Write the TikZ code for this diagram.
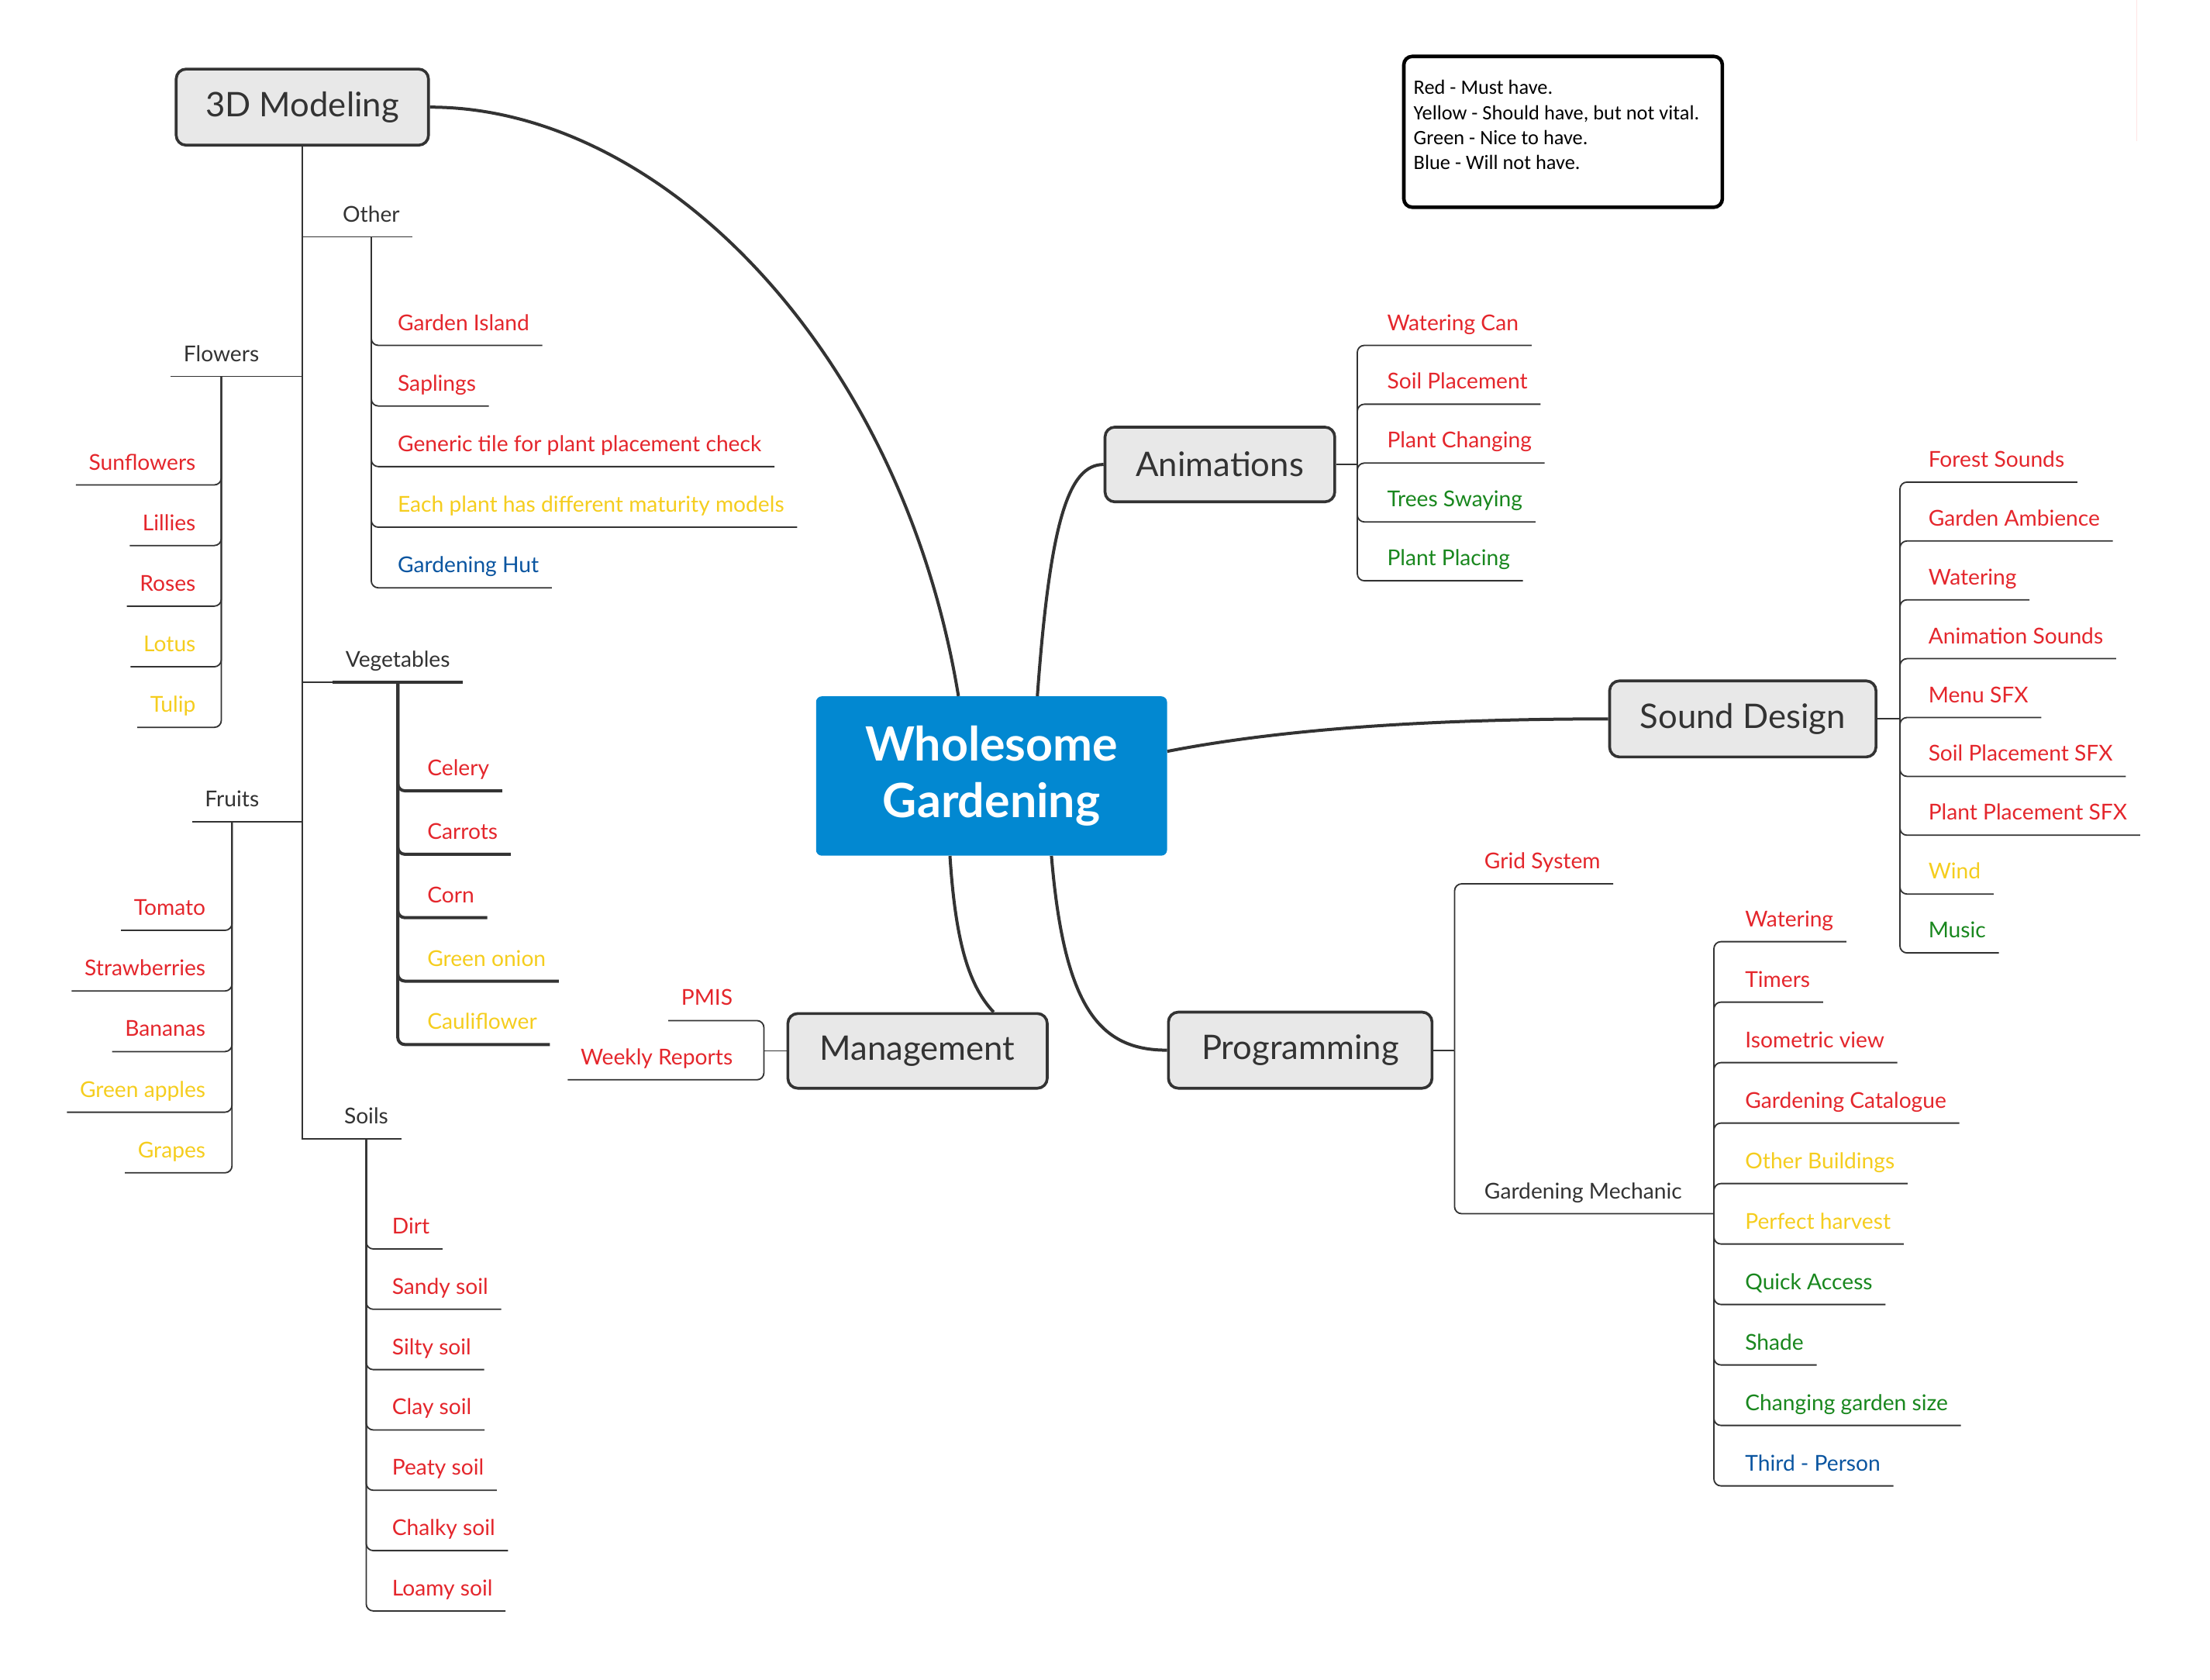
\documentclass[tikz,border=0pt]{standalone}
\usepackage{fontspec}
\setmainfont{Lato}
\newfontfamily\legendfont{Carlito}
\usetikzlibrary{positioning}

\definecolor{hubblue}{RGB}{2,136,209}
\definecolor{topicfill}{RGB}{232,232,232}
\definecolor{ink}{RGB}{51,51,51}
\definecolor{mustred}{RGB}{228,38,44}
\definecolor{shouldyellow}{RGB}{245,205,30}
\definecolor{nicegreen}{RGB}{25,135,30}
\definecolor{wontblue}{RGB}{10,85,160}

\tikzset{
  hub/.style={fill=hubblue, text=white, rounded corners=4pt, minimum width=249pt,
    minimum height=113pt, align=center, font=\fontsize{33.5}{40}\selectfont\bfseries},
  topic/.style={draw=ink, line width=2pt, fill=topicfill, rounded corners=7pt,
    text=ink, inner xsep=6pt, font=\fontsize{24}{28}\selectfont},
  leaf/.style={inner xsep=9pt, inner ysep=7pt, text height=11.5pt, text depth=3.5pt,
    font=\fontsize{15.5}{18}\selectfont},
  group/.style={leaf, text=ink},
  must/.style={leaf, text=mustred},
  should/.style={leaf, text=shouldyellow},
  nice/.style={leaf, text=nicegreen},
  wont/.style={leaf, text=wontblue},
  limb/.style={draw=ink, line width=2.2pt},
  stem/.style={draw=ink, line width=1pt},
  twig/.style={draw=ink, line width=1pt, rounded corners=5pt},
  twigbold/.style={twig, line width=2.2pt},
  legend/.style={draw=black, line width=2.5pt, rounded corners=6pt, inner sep=7pt,
    font=\legendfont\fontsize{14.5}{17.7}\selectfont}
}

\begin{document}
\begin{tikzpicture}[x=1pt, y=-1pt]

    \useasboundingbox (0,0) rectangle (1568,1191.8);

    % Define nodes

    \node[hub]                                         (hub) at (703.5,550.5) {Wholesome\\Gardening}; %
    \node[topic, minimum width=179pt, minimum height=54pt] (model) at (214.5,76) {3D Modeling}; %
    \node[topic, minimum width=163pt, minimum height=53pt] (anim) at (865.5,329.5) {Animations}; %
    \node[topic, minimum width=189pt, minimum height=54pt] (sound) at (1236.5,510) {Sound Design}; %
    \node[topic, minimum width=187pt, minimum height=54pt] (prog) at (922.5,745) {Programming}; %
    \node[topic, minimum width=184pt, minimum height=53pt] (mgmt) at (651,745.5) {Management}; %

    \node[legend] (legend) at (1109,93.5) {\parbox[c][93pt][t]{212pt}{\vspace*{10pt}Red - Must have.\\
      Yellow - Should have, but not vital.\\ Green - Nice to have.\\ Blue - Will not have.}}; %

    % 3D Modeling groups
    \node[group, anchor=south west]                    (other) at (234,168) {Other}; %
    \node[group, anchor=south east]                    (flowers) at (193,267) {Flowers}; %
    \node[group, anchor=south west]                    (veg) at (236,484) {Vegetables}; %
    \node[group, anchor=south east]                    (fruits) at (193,583) {Fruits}; %
    \node[group, anchor=south west]                    (soils) at (235,808) {Soils}; %

    % Other
    \node[must, anchor=south west]                     (gisland) at (273,245) {Garden Island}; %
    \node[must, below=43pt of gisland.south west, anchor=south west]  (saplings) {Saplings}; %
    \node[must, below=43pt of saplings.south west, anchor=south west] (gtile) {Generic tile for plant placement check}; %
    \node[should, below=43pt of gtile.south west, anchor=south west]  (maturity) {Each plant has different maturity models}; %
    \node[wont, below=43pt of maturity.south west, anchor=south west] (ghut) {Gardening Hut}; %

    % Flowers
    \node[must, anchor=south east]                     (sunfl) at (148,344) {Sunflowers}; %
    \node[must, below=43pt of sunfl.south east, anchor=south east]    (lillies) {Lillies}; %
    \node[must, below=43pt of lillies.south east, anchor=south east]  (roses) {Roses}; %
    \node[should, below=43pt of roses.south east, anchor=south east]  (lotus) {Lotus}; %
    \node[should, below=43pt of lotus.south east, anchor=south east]  (tulip) {Tulip}; %

    % Vegetables
    \node[must, anchor=south west]                     (celery) at (294,561) {Celery}; %
    \node[must, below=45pt of celery.south west, anchor=south west]   (carrots) {Carrots}; %
    \node[must, below=45pt of carrots.south west, anchor=south west]  (corn) {Corn}; %
    \node[should, below=45pt of corn.south west, anchor=south west]   (gonion) {Green onion}; %
    \node[should, below=45pt of gonion.south west, anchor=south west] (cauli) {Cauliflower}; %

    % Fruits
    \node[must, anchor=south east]                     (tomato) at (155,660) {Tomato}; %
    \node[must, below=43pt of tomato.south east, anchor=south east]   (strawb) {Strawberries}; %
    \node[must, below=43pt of strawb.south east, anchor=south east]   (bananas) {Bananas}; %
    \node[should, below=43pt of bananas.south east, anchor=south east] (gapples) {Green apples}; %
    \node[should, below=43pt of gapples.south east, anchor=south east] (grapes) {Grapes}; %

    % Soils
    \node[must, anchor=south west]                     (dirt) at (269,886) {Dirt}; %
    \node[must, below=42.8pt of dirt.south west, anchor=south west]   (sandy) {Sandy soil}; %
    \node[must, below=42.8pt of sandy.south west, anchor=south west]  (silty) {Silty soil}; %
    \node[must, below=42.8pt of silty.south west, anchor=south west]  (clay) {Clay soil}; %
    \node[must, below=42.8pt of clay.south west, anchor=south west]   (peaty) {Peaty soil}; %
    \node[must, below=42.8pt of peaty.south west, anchor=south west]  (chalky) {Chalky soil}; %
    \node[must, below=42.8pt of chalky.south west, anchor=south west] (loamy) {Loamy soil}; %

    % Animations
    \coordinate[right=15pt of anim.east]               (animfork); %
    \node[must, anchor=south west]                     (wcan) at (975,245) {Watering Can}; %
    \node[must, below=41.75pt of wcan.south west, anchor=south west]   (asoil) {Soil Placement}; %
    \node[must, below=41.75pt of asoil.south west, anchor=south west]  (pchange) {Plant Changing}; %
    \node[nice, below=41.75pt of pchange.south west, anchor=south west] (trees) {Trees Swaying}; %
    \node[nice, below=41.75pt of trees.south west, anchor=south west]  (pplace) {Plant Placing}; %

    % Sound Design
    \coordinate[right=16pt of sound.east]              (soundfork); %
    \node[must, anchor=south west]                     (forest) at (1359,342) {Forest Sounds}; %
    \node[must, below=41.75pt of forest.south west, anchor=south west]  (ambience) {Garden Ambience}; %
    \node[must, below=41.75pt of ambience.south west, anchor=south west] (swater) {Watering}; %
    \node[must, below=41.75pt of swater.south west, anchor=south west]  (asounds) {Animation Sounds}; %
    \node[must, below=41.75pt of asounds.south west, anchor=south west] (menusfx) {Menu SFX}; %
    \node[must, below=41.75pt of menusfx.south west, anchor=south west] (soilsfx) {Soil Placement SFX}; %
    \node[must, below=41.75pt of soilsfx.south west, anchor=south west] (plantsfx) {Plant Placement SFX}; %
    \node[should, below=41.75pt of plantsfx.south west, anchor=south west] (wind) {Wind}; %
    \node[nice, below=41.75pt of wind.south west, anchor=south west]    (music) {Music}; %

    % Programming
    \coordinate[right=15pt of prog.east]               (progfork); %
    \node[must, anchor=south west]                     (grid) at (1044,627) {Grid System}; %
    \node[group, anchor=south west]                    (gmech) at (1044,861) {Gardening Mechanic}; %
    \coordinate                                        (gmfork) at (1216,861); %
    \node[must, anchor=south west]                     (pwater) at (1229,668) {Watering}; %
    \node[must, below=42.9pt of pwater.south west, anchor=south west]   (timers) {Timers}; %
    \node[must, below=42.9pt of timers.south west, anchor=south west]   (iso) {Isometric view}; %
    \node[must, below=42.9pt of iso.south west, anchor=south west]      (catalogue) {Gardening Catalogue}; %
    \node[should, below=42.9pt of catalogue.south west, anchor=south west] (buildings) {Other Buildings}; %
    \node[should, below=42.9pt of buildings.south west, anchor=south west] (harvest) {Perfect harvest}; %
    \node[nice, below=42.9pt of harvest.south west, anchor=south west]  (quick) {Quick Access}; %
    \node[nice, below=42.9pt of quick.south west, anchor=south west]    (shade) {Shade}; %
    \node[nice, below=42.9pt of shade.south west, anchor=south west]    (gsize) {Changing garden size}; %
    \node[wont, below=42.9pt of gsize.south west, anchor=south west]    (third) {Third - Person}; %

    % Management
    \coordinate[left=16pt of mgmt.west]                (mgmtfork); %
    \node[must, anchor=south east]                     (pmis) at (529,724) {PMIS}; %
    \node[must, below=42pt of pmis.south east, anchor=south east] (weekly) {Weekly Reports}; %

    % Connect the hub
    \draw[limb] ([xshift=-23.5pt]hub.north) .. controls (640,250) and (470,76) .. (model.east);
    \draw[limb] ([xshift=32.5pt]hub.north) .. controls (745,370) and (758,329.5) .. (anim.west);
    \draw[limb] ([yshift=17.5pt]hub.east) .. controls (900,519) and (1000,510) .. (sound.west);
    \draw[limb] ([xshift=42.5pt]hub.south) .. controls (755,715) and (780,745) .. (prog.west);
    \draw[limb] ([xshift=-29.5pt]hub.south) .. controls (678,670) and (688,700) .. ([xshift=54pt]mgmt.north);

    % 3D Modeling branches
    \draw[stem] (model.south) |- (other.south east);
    \draw[stem] (model.south) |- (flowers.south west);
    \draw[stem] (model.south) |- (veg.south west);
    \draw[twigbold] (veg.south west) -- (veg.south east);
    \draw[stem] (model.south) |- (fruits.south west);
    \draw[stem] (model.south) |- (soils.south east);

    \draw[twig] (other.south) |- (gisland.south east);
    \draw[twig] (other.south) |- (saplings.south east);
    \draw[twig] (other.south) |- (gtile.south east);
    \draw[twig] (other.south) |- (maturity.south east);
    \draw[twig] (other.south) |- (ghut.south east);

    \draw[twig] (flowers.south) |- (sunfl.south west);
    \draw[twig] (flowers.south) |- (lillies.south west);
    \draw[twig] (flowers.south) |- (roses.south west);
    \draw[twig] (flowers.south) |- (lotus.south west);
    \draw[twig] (flowers.south) |- (tulip.south west);

    \draw[twigbold] (veg.south) |- (celery.south east);
    \draw[twigbold] (veg.south) |- (carrots.south east);
    \draw[twigbold] (veg.south) |- (corn.south east);
    \draw[twigbold] (veg.south) |- (gonion.south east);
    \draw[twigbold] (veg.south) |- (cauli.south east);

    \draw[twig] (fruits.south) |- (tomato.south west);
    \draw[twig] (fruits.south) |- (strawb.south west);
    \draw[twig] (fruits.south) |- (bananas.south west);
    \draw[twig] (fruits.south) |- (gapples.south west);
    \draw[twig] (fruits.south) |- (grapes.south west);

    \draw[twig] (soils.south) |- (dirt.south east);
    \draw[twig] (soils.south) |- (sandy.south east);
    \draw[twig] (soils.south) |- (silty.south east);
    \draw[twig] (soils.south) |- (clay.south east);
    \draw[twig] (soils.south) |- (peaty.south east);
    \draw[twig] (soils.south) |- (chalky.south east);
    \draw[twig] (soils.south) |- (loamy.south east);

    % Animations branches
    \draw[stem] (anim.east) -- (animfork);
    \draw[twig] (animfork) |- (wcan.south east);
    \draw[twig] (animfork) |- (asoil.south east);
    \draw[twig] (animfork) |- (pchange.south east);
    \draw[twig] (animfork) |- (trees.south east);
    \draw[twig] (animfork) |- (pplace.south east);

    % Sound Design branches
    \draw[stem] (sound.east) -- (soundfork);
    \draw[twig] (soundfork) |- (forest.south east);
    \draw[twig] (soundfork) |- (ambience.south east);
    \draw[twig] (soundfork) |- (swater.south east);
    \draw[twig] (soundfork) |- (asounds.south east);
    \draw[twig] (soundfork) |- (menusfx.south east);
    \draw[twig] (soundfork) |- (soilsfx.south east);
    \draw[twig] (soundfork) |- (plantsfx.south east);
    \draw[twig] (soundfork) |- (wind.south east);
    \draw[twig] (soundfork) |- (music.south east);

    % Programming branches
    \draw[stem] (prog.east) -- (progfork);
    \draw[twig] (progfork) |- (grid.south east);
    \draw[twig] (progfork) |- (gmfork);
    \draw[twig] (gmfork) |- (pwater.south east);
    \draw[twig] (gmfork) |- (timers.south east);
    \draw[twig] (gmfork) |- (iso.south east);
    \draw[twig] (gmfork) |- (catalogue.south east);
    \draw[twig] (gmfork) |- (buildings.south east);
    \draw[twig] (gmfork) |- (harvest.south east);
    \draw[twig] (gmfork) |- (quick.south east);
    \draw[twig] (gmfork) |- (shade.south east);
    \draw[twig] (gmfork) |- (gsize.south east);
    \draw[twig] (gmfork) |- (third.south east);

    % Management branches
    \draw[stem] (mgmt.west) -- (mgmtfork);
    \draw[twig] (mgmtfork) |- (pmis.south west);
    \draw[twig] (mgmtfork) |- (weekly.south west);

    % faint edge mark
    \draw[red!10, line width=0.6pt] (1516,0) -- (1516,100);

  \end{tikzpicture}
\end{document}
